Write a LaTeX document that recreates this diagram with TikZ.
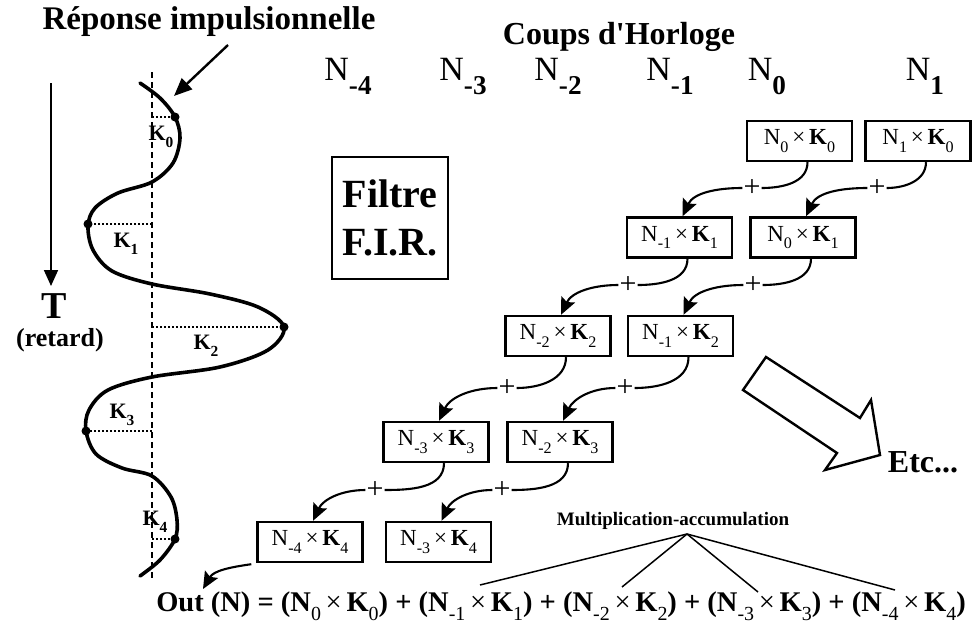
\documentclass[tikz,border=0pt]{standalone}
\usepackage{fontspec}
\setmainfont{Liberation Serif}
% same face without the TeX quote mapping, for a straight apostrophe
\newfontfamily\rawserif{Liberation Serif}
\usetikzlibrary{arrows.meta}

% lowered, reduced index used in all the N/K labels
\newcommand{\idx}[1]{\raisebox{-0.32em}{\scalebox{0.7}{#1}}}
\newcommand{\hidx}[1]{\raisebox{-0.42em}{\scalebox{0.8}{\bfseries #1}}}
\newcommand{\prodNK}[2]{N\idx{#1}\,×\,\textbf{K}\idx{#2}}
\newcommand{\eqNK}[2]{(N\idx{\mdseries #1}\,{\mdseries ×}\,K\idx{\mdseries #2})}

\begin{document}
\begin{tikzpicture}[x=1pt,y=1pt,
  prodbox/.style={draw, line width=2.4pt, minimum width=105pt, minimum height=40pt,
    inner sep=0pt, font=\fontsize{23}{26}\selectfont},
  plus/.style={font=\fontsize{30}{30}\selectfont, inner sep=1pt},
  accline/.style={line width=2.1pt},
  accarrow/.style={line width=2.1pt, -{Stealth[length=17pt,width=15pt,inset=3pt]}},
  header/.style={font=\fontsize{34}{34}\selectfont, anchor=base},
  klabel/.style={font=\bfseries\fontsize{22}{22}\selectfont},
  dotline/.style={line width=2pt, dash pattern=on 2pt off 2pt},
  sample/.style={circle, fill, inner sep=0pt, minimum size=9pt},
  fanline/.style={line width=1.5pt}
]
\useasboundingbox (0,0) rectangle (972,-624);

% ---------- titles ----------
\node[font=\bfseries\fontsize{33}{33}\selectfont] (rep) at (209,-22) {Réponse impulsionnelle};
\node[font=\rawserif\bfseries\fontsize{32}{32}\selectfont] (coups) at (619,-37) {Coups d'Horloge};

\node[header] (h4) at (348,-80) {N\hidx{-4}};
\node[header] (h3) at (463,-80) {N\hidx{-3}};
\node[header] (h2) at (558,-80) {N\hidx{-2}};
\node[header] (h1) at (670,-80) {N\hidx{-1}};
\node[header] (h0) at (767,-80) {N\hidx{0}};
\node[header] (hp) at (925,-80) {N\hidx{1}};

% ---------- impulse response ----------
\coordinate (axtop) at (152,-72);
\coordinate (axbot) at (152,-578);
\draw[line width=1.8pt, dash pattern=on 6pt off 4pt] (axtop) -- (axbot);

\draw[line width=3.6pt, line cap=round] plot[smooth, tension=0.55] coordinates {
  (140,-83) (160,-98) (175,-117) (180,-138) (173,-163) (152,-182) (118,-193)
  (95,-208) (88,-226) (93,-250) (112,-271) (152,-284) (210,-294) (258,-307)
  (284,-327) (268,-350) (220,-367) (152,-377) (108,-390) (89,-410) (86,-431)
  (96,-454) (122,-468) (152,-476) (171,-497) (177,-520) (175,-539) (160,-560) (140,-576)};

\coordinate (k0a) at (152,-117); \node[sample] (k0) at (175,-117) {};
\coordinate (k1a) at (152,-224); \node[sample] (k1) at (88,-224) {};
\coordinate (k2a) at (152,-327); \node[sample] (k2) at (284,-327) {};
\coordinate (k3a) at (152,-431); \node[sample] (k3) at (86,-431) {};
\coordinate (k4a) at (152,-539); \node[sample] (k4) at (175,-539) {};
\foreach \k in {0,...,4} \draw[dotline] (k\k a) -- (k\k.center);

\node[klabel] (l0) at (161,-137) {K\idx{0}};
\node[klabel] (l1) at (126,-244) {K\idx{1}};
\node[klabel] (l2) at (206,-346) {K\idx{2}};
\node[klabel] (l3) at (122,-415) {K\idx{3}};
\node[klabel] (l4) at (155,-522) {K\idx{4}};

\coordinate (reptail) at (228,-45);
\coordinate (rephead) at (174,-96);
\draw[line width=2.4pt, -{Triangle[length=18pt,width=15pt]}] (reptail) -- (rephead);

% time axis
\coordinate (ttop) at (51,-83);
\coordinate (tbot) at (51,-286);
\draw[line width=1.8pt, -{Triangle[length=16pt,width=14pt]}] (ttop) -- (tbot);
\node[font=\bfseries\fontsize{38}{38}\selectfont] (T) at (54,-306) {T};
\node[font=\bfseries\fontsize{26}{26}\selectfont] (ret) at (60,-340) {(retard)};

% ---------- filter label ----------
\node[draw, line width=2.4pt, minimum width=116pt, minimum height=122pt, align=center,
  font=\bfseries\fontsize{40}{48}\selectfont] (fir) at (390,-218) {Filtre\\F.I.R.};

% ---------- products ----------
\node[prodbox] (A0) at (799.5,-141) {\prodNK{0}{0}};
\node[prodbox] (B0) at (918,-141)   {\prodNK{1}{0}};
\node[prodbox] (A1) at (679.5,-237.5) {\prodNK{-1}{1}};
\node[prodbox] (B1) at (803,-237.5)   {\prodNK{0}{1}};
\node[prodbox] (A2) at (558,-336)   {\prodNK{-2}{2}};
\node[prodbox] (B2) at (680.5,-336) {\prodNK{-1}{2}};
\node[prodbox] (A3) at (436,-442)   {\prodNK{-3}{3}};
\node[prodbox] (B3) at (560,-442)   {\prodNK{-2}{3}};
\node[prodbox] (A4) at (310,-542)   {\prodNK{-4}{4}};
\node[prodbox] (B4) at (438.5,-542) {\prodNK{-3}{4}};

% accumulation steps: product -> + -> next product
\node[plus] (pA1) at (752,-188) {+};
\node[plus] (pB1) at (877,-188) {+};
\node[plus] (pA2) at (628,-285) {+};
\node[plus] (pB2) at (753,-285) {+};
\node[plus] (pA3) at (507,-388) {+};
\node[plus] (pB3) at (625,-388) {+};
\node[plus] (pA4) at (375,-490) {+};
\node[plus] (pB4) at (502,-490) {+};

\foreach \s/\p/\t in {A0/pA1/A1, B0/pB1/B1, A1/pA2/A2, B1/pB2/B2,
                      A2/pA3/A3, B2/pB3/B3, A3/pA4/A4, B3/pB4/B4} {
  \draw[accline] ([xshift=8pt]\s.south) to[out=-90,in=0] (\p.east);
  \draw[accarrow] (\p.west) to[out=180,in=65] ([xshift=3pt]\t.north);
}

% ---------- output ----------
\node[font=\bfseries\fontsize{28.5}{30}\selectfont, anchor=base] (out) at (561,-611)
  {Out (N) = \eqNK{0}{0} + \eqNK{-1}{1} + \eqNK{-2}{2} + \eqNK{-3}{3} + \eqNK{-4}{4}};
\coordinate (outin) at (203,-589);
\draw[accarrow] ([xshift=-5pt,yshift=-1pt]A4.south west) to[out=188,in=60] (outin);

\node[font=\bfseries\fontsize{19}{20}\selectfont] (mac) at (673,-521) {Multiplication-accumulation};
\coordinate (fan) at (687,-534);
\coordinate (f1) at (480,-585);
\coordinate (f2) at (622,-587);
\coordinate (f3) at (758,-592);
\coordinate (f4) at (895,-590);
\foreach \f in {f1,f2,f3,f4} \draw[fanline] (fan) -- (\f);

% ---------- "and so on" arrow ----------
\draw[line width=2.4pt, line join=miter] (766,-357) coordinate (bt1) -- (860,-418) -- (871,-400)
  -- (880,-455) coordinate (btip) -- (825,-470) -- (837,-453) -- (743,-390) -- cycle;
\node[font=\bfseries\fontsize{32}{32}\selectfont] (etc) at (923,-462) {Etc...};

\end{tikzpicture}
\end{document}
